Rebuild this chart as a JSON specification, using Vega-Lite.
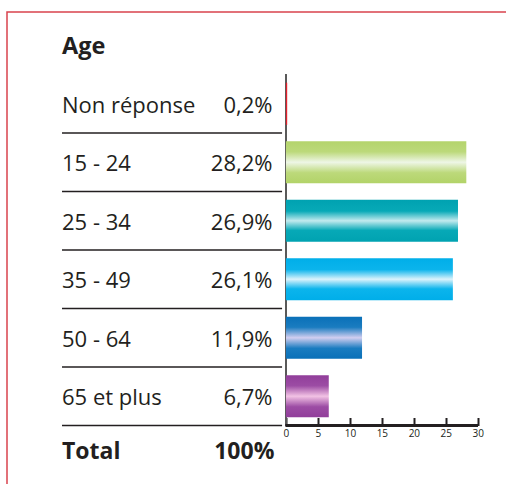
{
  "$schema": "https://vega.github.io/schema/vega-lite/v6.json",
  "autosize": {"type": "none"},
  "padding": {"left": 7, "top": 12, "right": 0, "bottom": 0},
  "width": 522,
  "height": 476,
  "config": {
    "view": {"stroke": "#d9434e", "strokeWidth": 1.5},
    "font": "Open Sans",
    "text": {"font": "Open Sans", "fontSize": 22, "color": "#231f20"}
  },
  "data": {
    "values": [
      {"cat": "Age", "pct": null, "label": "Age", "kind": "title"},
      {"cat": "Non réponse", "pct": 0.2, "label": "0,2%", "kind": "row"},
      {"cat": "15 - 24", "pct": 28.2, "label": "28,2%", "kind": "row"},
      {"cat": "25 - 34", "pct": 26.9, "label": "26,9%", "kind": "row"},
      {"cat": "35 - 49", "pct": 26.1, "label": "26,1%", "kind": "row"},
      {"cat": "50 - 64", "pct": 11.9, "label": "11,9%", "kind": "row"},
      {"cat": "65 et plus", "pct": 6.7, "label": "6,7%", "kind": "row"},
      {"cat": "Total", "pct": 100, "label": "100%", "kind": "total"}
    ]
  },
  "encoding": {
    "y": {
      "field": "cat",
      "type": "nominal",
      "sort": null,
      "scale": {
        "domain": ["Age", "Non réponse", "15 - 24", "25 - 34", "35 - 49", "50 - 64", "65 et plus", "Total"],
        "paddingInner": 0,
        "paddingOuter": 0.0684
      },
      "axis": null
    }
  },
  "layer": [
    {
      "transform": [{"filter": "datum.kind == 'row'"}],
      "mark": {"type": "rule", "stroke": "#231f20", "strokeWidth": 1.5},
      "encoding": {
        "y": {"field": "cat", "type": "nominal", "bandPosition": 1},
        "x": {"datum": -35, "type": "quantitative", "scale": {"domain": [-43.6, 38], "nice": false, "zero": false}, "axis": {
          "values": [0, 5, 10, 15, 20, 25, 30],
          "domain": false,
          "grid": false,
          "orient": "bottom",
          "offset": -62.5,
          "tickSize": -8,
          "tickWidth": 2,
          "tickColor": "#231f20",
          "labelFont": "Open Sans",
          "labelFontSize": 10,
          "labelColor": "#231f20",
          "labelPadding": 11,
          "title": null
        }},
        "x2": {"datum": -0.6}
      }
    },
    {
      "mark": {"type": "rule", "stroke": "#5a5a5a", "strokeWidth": 1.5},
      "encoding": {
        "x": {"datum": 0, "type": "quantitative"},
        "y": {"datum": "Non réponse", "bandPosition": 0},
        "y2": {"datum": "Total", "bandPosition": 0}
      }
    },
    {
      "transform": [{"filter": "datum.cat == 'Non réponse'"}],
      "mark": {"type": "bar", "height": {"band": 0.72}, "color": "#e3202c"},
      "encoding": {"x": {"field": "pct", "type": "quantitative"}}
    },
    {
      "transform": [{"filter": "datum.cat == '15 - 24'"}],
      "mark": {"type": "bar", "height": {"band": 0.72}, "color": {
        "gradient": "linear", "x1": 0, "y1": 0, "x2": 0, "y2": 1,
        "stops": [
          {"offset": 0, "color": "#b4d46c"},
          {"offset": 0.25, "color": "#bcd97a"},
          {"offset": 0.5, "color": "#eef6e6"},
          {"offset": 0.75, "color": "#bcd97a"},
          {"offset": 1, "color": "#b2d368"}
        ]
      }},
      "encoding": {"x": {"field": "pct", "type": "quantitative"}}
    },
    {
      "transform": [{"filter": "datum.cat == '25 - 34'"}],
      "mark": {"type": "bar", "height": {"band": 0.72}, "color": {
        "gradient": "linear", "x1": 0, "y1": 0, "x2": 0, "y2": 1,
        "stops": [
          {"offset": 0, "color": "#00a2b1"},
          {"offset": 0.27, "color": "#07a9b7"},
          {"offset": 0.5, "color": "#c2eaee"},
          {"offset": 0.73, "color": "#07a9b7"},
          {"offset": 1, "color": "#00a2b1"}
        ]
      }},
      "encoding": {"x": {"field": "pct", "type": "quantitative"}}
    },
    {
      "transform": [{"filter": "datum.cat == '35 - 49'"}],
      "mark": {"type": "bar", "height": {"band": 0.72}, "color": {
        "gradient": "linear", "x1": 0, "y1": 0, "x2": 0, "y2": 1,
        "stops": [
          {"offset": 0, "color": "#00aee9"},
          {"offset": 0.27, "color": "#0bb4ec"},
          {"offset": 0.5, "color": "#dcf3fc"},
          {"offset": 0.73, "color": "#0bb4ec"},
          {"offset": 1, "color": "#00aee9"}
        ]
      }},
      "encoding": {"x": {"field": "pct", "type": "quantitative"}}
    },
    {
      "transform": [{"filter": "datum.cat == '50 - 64'"}],
      "mark": {"type": "bar", "height": {"band": 0.72}, "color": {
        "gradient": "linear", "x1": 0, "y1": 0, "x2": 0, "y2": 1,
        "stops": [
          {"offset": 0, "color": "#0a70b8"},
          {"offset": 0.25, "color": "#1a7cc0"},
          {"offset": 0.5, "color": "#d2cef0"},
          {"offset": 0.75, "color": "#1a7cc0"},
          {"offset": 1, "color": "#0a70b8"}
        ]
      }},
      "encoding": {"x": {"field": "pct", "type": "quantitative"}}
    },
    {
      "transform": [{"filter": "datum.cat == '65 et plus'"}],
      "mark": {"type": "bar", "height": {"band": 0.72}, "color": {
        "gradient": "linear", "x1": 0, "y1": 0, "x2": 0, "y2": 1,
        "stops": [
          {"offset": 0, "color": "#913e9a"},
          {"offset": 0.25, "color": "#9c4ca4"},
          {"offset": 0.5, "color": "#f2c2e4"},
          {"offset": 0.75, "color": "#9c4ca4"},
          {"offset": 1, "color": "#913e9a"}
        ]
      }},
      "encoding": {"x": {"field": "pct", "type": "quantitative"}}
    },
    {
      "mark": {"type": "rule", "stroke": "#231f20", "strokeWidth": 3},
      "encoding": {
        "x": {"datum": 0, "type": "quantitative"},
        "x2": {"datum": 30},
        "y": {"datum": "Total", "bandPosition": 0}
      }
    },
    {
      "transform": [{"filter": "datum.kind == 'row'"}],
      "mark": {"type": "text", "align": "left", "baseline": "middle", "dy": 2},
      "encoding": {
        "x": {"datum": -35, "type": "quantitative"},
        "text": {"field": "cat"}
      }
    },
    {
      "transform": [{"filter": "datum.kind == 'row'"}],
      "mark": {"type": "text", "align": "right", "baseline": "middle", "dy": 2},
      "encoding": {
        "x": {"datum": -2.1, "type": "quantitative"},
        "text": {"field": "label"}
      }
    },
    {
      "transform": [{"filter": "datum.kind == 'title'"}],
      "mark": {"type": "text", "align": "left", "baseline": "middle", "fontWeight": "bold", "fontSize": 23.5, "dy": 2},
      "encoding": {
        "x": {"datum": -35, "type": "quantitative"},
        "text": {"field": "label"}
      }
    },
    {
      "transform": [{"filter": "datum.kind == 'total'"}],
      "mark": {"type": "text", "align": "left", "baseline": "middle", "fontWeight": "bold", "fontSize": 23, "dy": -3},
      "encoding": {
        "x": {"datum": -35, "type": "quantitative"},
        "text": {"field": "cat"}
      }
    },
    {
      "transform": [{"filter": "datum.kind == 'total'"}],
      "mark": {"type": "text", "align": "right", "baseline": "middle", "fontWeight": "bold", "fontSize": 23, "dy": -3},
      "encoding": {
        "x": {"datum": -1.8, "type": "quantitative"},
        "text": {"field": "label"}
      }
    }
  ]
}
